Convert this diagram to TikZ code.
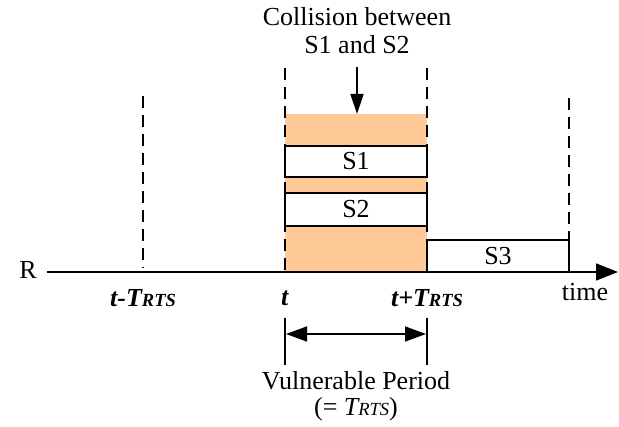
\documentclass[tikz,border=0pt]{standalone}
\usepackage{fontspec}
\setmainfont{Liberation Serif}
\usetikzlibrary{arrows.meta}
\definecolor{slot}{HTML}{FFCA98}
\newcommand{\bigfont}{\fontsize{26}{31}\selectfont}
\newcommand{\rts}{{\fontsize{18.5}{22}\selectfont RTS}}
\begin{document}
\begin{tikzpicture}[x=1pt,y=-1pt,
  thick line/.style={line width=1.5pt},
  dashline/.style={line width=1.5pt, dash pattern=on 12pt off 7pt},
  frame/.style={draw, line width=1.5pt, fill=white, minimum width=142pt, inner sep=0pt, font=\bigfont},
  lbl/.style={font=\bigfont, inner sep=0pt},
  bigtip/.style={-{Triangle[length=22pt,width=17pt]}},
  midtip/.style={-{Triangle[length=20pt,width=13pt]}},
  vtip/.style={{Triangle[length=21pt,width=15pt]}-{Triangle[length=21pt,width=15pt]}}
]
\useasboundingbox (0,0) rectangle (619,427);
% orange slot
\fill[slot] (285,114) rectangle (427,272);
% dashed guides
\coordinate (d1t) at (143,96);  \coordinate (d1b) at (143,268);
\coordinate (d2t) at (285,68);  \coordinate (d2b) at (285,272);
\coordinate (d3t) at (427,68);  \coordinate (d3b) at (427,272);
\coordinate (d4t) at (569,98);  \coordinate (d4b) at (569,240);
\draw[dashline] (d1t) -- (d1b);
\draw[dashline] (d2t) -- (d2b);
\draw[dashline] (d3t) -- (d3b);
\draw[dashline] (d4t) -- (d4b);
% frames
\node[frame, minimum height=31pt] (s1) at (356,161.5) {S1};
\node[frame, minimum height=33pt] (s2) at (356,209.5) {S2};
\node[frame, minimum height=32pt] (s3) at (498,256) {S3};
% axis
\node[lbl] (R) at (28,270) {R};
\coordinate (ax0) at (47,272);
\coordinate (ax1) at (618,272);
\draw[thick line, bigtip] (ax0) -- (ax1);
% axis labels
\node[lbl] (l1) at (143,298) {\textbf{\textit{t-T\rts}}};
\node[lbl] (l2) at (285,298) {\textbf{\textit{t}}};
\node[lbl] (l3) at (427,298) {\textbf{\textit{t+T\rts}}};
\node[lbl] (l4) at (585,292) {time};
% collision
\node[lbl] (c1) at (357,17) {Collision between};
\node[lbl] (c2) at (357,45) {S1 and S2};
\coordinate (cs) at (357,67);
\coordinate (ce) at (357,114);
\draw[thick line, midtip] (cs) -- (ce);
% vulnerable period
\coordinate (v1t) at (285,318); \coordinate (v1b) at (285,365);
\coordinate (v2t) at (427,318); \coordinate (v2b) at (427,365);
\draw[thick line] (v1t) -- (v1b);
\draw[thick line] (v2t) -- (v2b);
\coordinate (va) at (286,334);
\coordinate (vb) at (426,334);
\draw[thick line, vtip] (va) -- (vb);
\node[lbl] (p1) at (356,381) {Vulnerable Period};
\node[lbl] (p2) at (356,409) {(= \textit{T\rts})};
\end{tikzpicture}
\end{document}
